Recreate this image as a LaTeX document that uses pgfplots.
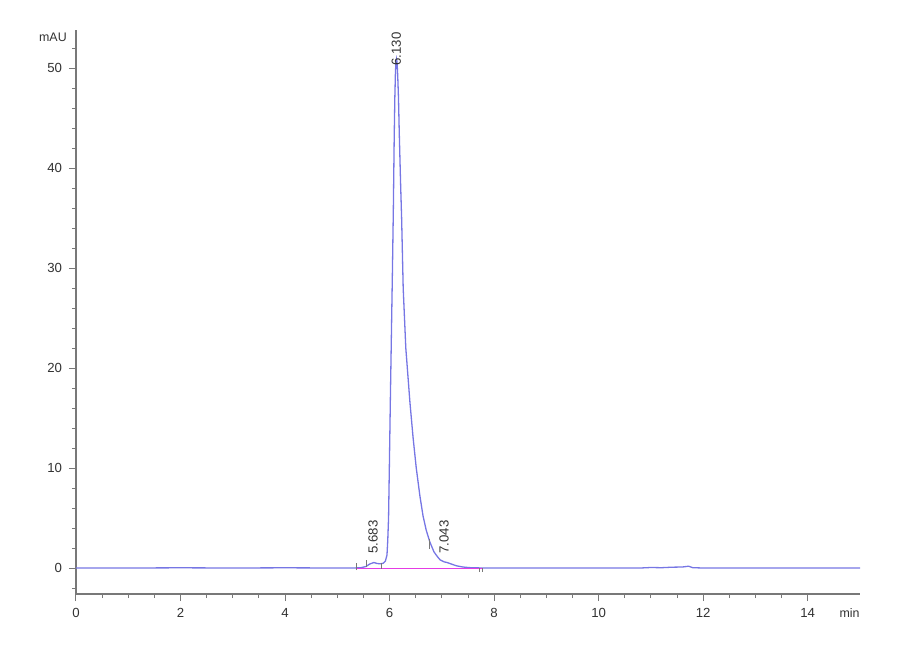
\documentclass[border=0pt]{standalone}
\usepackage{pgfplots}
\pgfplotsset{compat=1.18}
\usepackage{fontspec}
\setmainfont{Liberation Sans}
\definecolor{trace}{RGB}{118,118,228}
\definecolor{base}{RGB}{228,60,228}
\definecolor{axgray}{RGB}{120,120,120}
\definecolor{txt}{RGB}{50,50,50}
\begin{document}
\begin{tikzpicture}
\path (0,0) rectangle (450pt,330pt);
\begin{axis}[
  at={(38pt,33pt)}, anchor=south west,
  scale only axis, width=392pt, height=282pt,
  xmin=0, xmax=15, ymin=-2.6, ymax=53.8,
  axis x line*=bottom, axis y line*=left,
  axis line style={axgray, line width=0.6pt, -},
  tick align=outside,
  major tick length=3.5pt, minor tick length=2pt,
  tick style={axgray, line width=0.5pt},
  xtick={0,2,...,14}, minor x tick num=3,
  ytick={0,10,...,50}, minor ytick={-2,2,4,6,8,12,14,16,18,22,24,26,28,32,34,36,38,42,44,46,48,52},
  ticklabel style={font=\fontsize{6.6}{8}\selectfont, text=txt},
  /pgf/number format/assume math mode=true,
  clip=false,
]
% main trace
\addplot[trace, line width=0.65pt] coordinates {
(0,0) (1,0) (2,0.02) (3,0) (4,0.02) (5,0) (5.30,0) (5.45,0.03) (5.55,0.15) (5.62,0.40) (5.70,0.55) (5.76,0.45)
(5.82,0.42) (5.88,0.48) (5.92,0.70) (5.95,1.3) (5.965,2.8) (5.98,5) (5.995,10)
(6.015,17) (6.035,23.5) (6.055,30) (6.072,36) (6.088,43) (6.10,47) (6.112,49.6)
(6.122,50.6) (6.132,50.9) (6.142,50.6) (6.155,49.3) (6.17,47) (6.185,43.5) (6.21,38.5) (6.23,35) (6.26,28)
(6.31,22) (6.39,16.5) (6.45,13) (6.51,10) (6.58,7.2) (6.64,5.2) (6.70,3.8) (6.77,2.6)
(6.85,1.6) (6.92,1.1) (6.97,0.8) (7.04,0.62) (7.10,0.55) (7.18,0.40) (7.28,0.22)
(7.40,0.10) (7.55,0.03) (7.8,0) (9,0) (10,0) (10.8,0) (11.0,0.05) (11.2,0.03)
(11.4,0.08) (11.6,0.1) (11.72,0.18) (11.8,0.03) (12,0) (13,0) (14,0) (15,0)
};
% integration baseline
\addplot[base, line width=0.6pt] coordinates {(5.35,-0.05) (7.78,-0.05)};
% integration event marks
\addplot[axgray, line width=0.4pt, unbounded coords=jump] coordinates {
(5.37,-0.2) (5.37,0.5) (nan,nan)
(5.56,0.1) (5.56,0.8) (nan,nan)
(5.85,-0.1) (5.85,0.5) (nan,nan)
(6.77,1.9) (6.77,2.9) (nan,nan)
(7.72,0) (7.72,-0.4) (nan,nan)
(7.78,0) (7.78,-0.4)
};
\node[rotate=90, anchor=west, font=\fontsize{6.6}{8}\selectfont, text=txt, inner sep=1pt] at (axis cs:6.13,50.0) {6.130};
\node[rotate=90, anchor=west, font=\fontsize{6.6}{8}\selectfont, text=txt, inner sep=1pt] at (axis cs:5.683,1.2) {5.683};
\node[rotate=90, anchor=west, font=\fontsize{6.6}{8}\selectfont, text=txt, inner sep=1pt] at (axis cs:7.043,1.2) {7.043};
\node[anchor=east, font=\fontsize{6.2}{8}\selectfont, text=txt, inner sep=0pt] at (axis cs:-0.17,53.1) {mAU};
\node[anchor=east, font=\fontsize{6.2}{8}\selectfont, text=txt, inner sep=0pt] at (axis cs:15,-4.5) {min};
\end{axis}
\end{tikzpicture}
\end{document}
